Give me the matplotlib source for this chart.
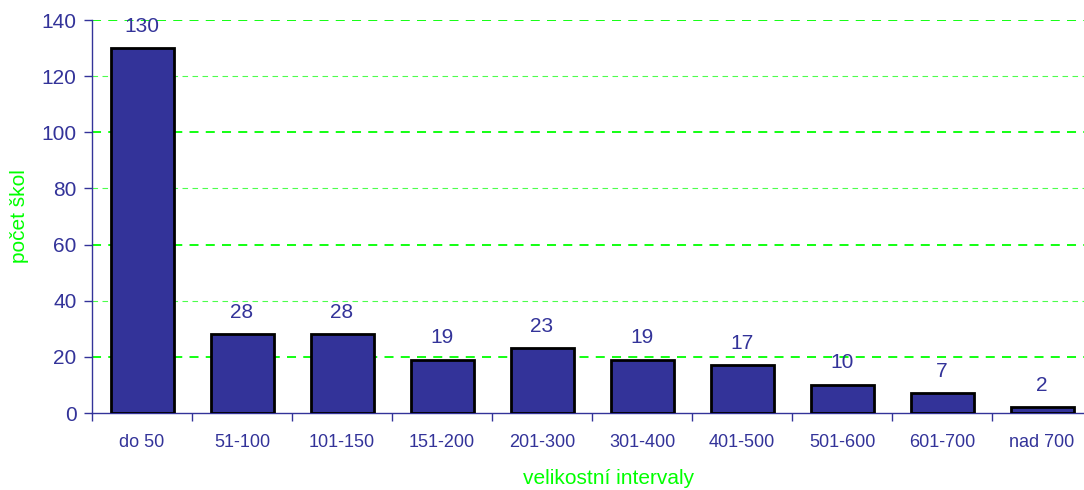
import matplotlib.pyplot as plt
from matplotlib.ticker import FixedLocator, NullFormatter

categories = ['do 50', '51-100', '101-150', '151-200', '201-300',
              '301-400', '401-500', '501-600', '601-700', 'nad 700']
counts = [130, 28, 28, 19, 23, 19, 17, 10, 7, 2]
yticks = [0, 20, 40, 60, 80, 100, 120, 140]

navy = '#333399'
green = '#00ff00'

plt.rcParams['font.family'] = ['Liberation Sans', 'DejaVu Sans']

fig = plt.figure(figsize=(10.84, 4.9), dpi=100)
ax = fig.add_axes([92 / 1084, 1 - 413 / 490, 1 - 92 / 1084, 393 / 490])

x = list(range(len(categories)))
ax.bar(x, counts, width=0.63, color=navy, edgecolor='black', linewidth=2, zorder=3)

for i, v in enumerate(counts):
    ax.annotate(str(v), (i, v), xytext=(0, 9), textcoords='offset points',
                ha='center', va='bottom', fontsize=15, color=navy)

# gridlines alternate between heavier and lighter dashes
for y in yticks[1:]:
    heavy = (y // 20) % 2 == 1
    ax.axhline(y, color=green, linestyle=(0, (5, 4)),
               linewidth=1.3 if heavy else 0.8, alpha=1 if heavy else 0.7, zorder=1)

ax.set_xlim(-0.5, 9.42)
ax.set_ylim(0, 140)
ax.set_yticks(yticks)
ax.tick_params(axis='y', colors=navy, labelsize=15, length=6, width=1, direction='out', pad=5)

ax.set_xticks(x)
ax.set_xticklabels(categories, fontsize=13, color=navy)
ax.tick_params(axis='x', which='major', length=0, pad=15)
ax.xaxis.set_minor_locator(FixedLocator([i - 0.5 for i in range(len(categories) + 1)]))
ax.xaxis.set_minor_formatter(NullFormatter())
ax.tick_params(axis='x', which='minor', length=6, width=1, color=navy)

for side in ['top', 'right']:
    ax.spines[side].set_visible(False)
for side in ['left', 'bottom']:
    ax.spines[side].set_color(navy)
    ax.spines[side].set_linewidth(1)

ax.set_xlabel('velikostní intervaly', color=green, fontsize=15)
ax.xaxis.set_label_coords(0.521, -0.143)
ax.set_ylabel('počet škol', color=green, fontsize=15, labelpad=9)

fig.savefig('out.png', dpi=100)
